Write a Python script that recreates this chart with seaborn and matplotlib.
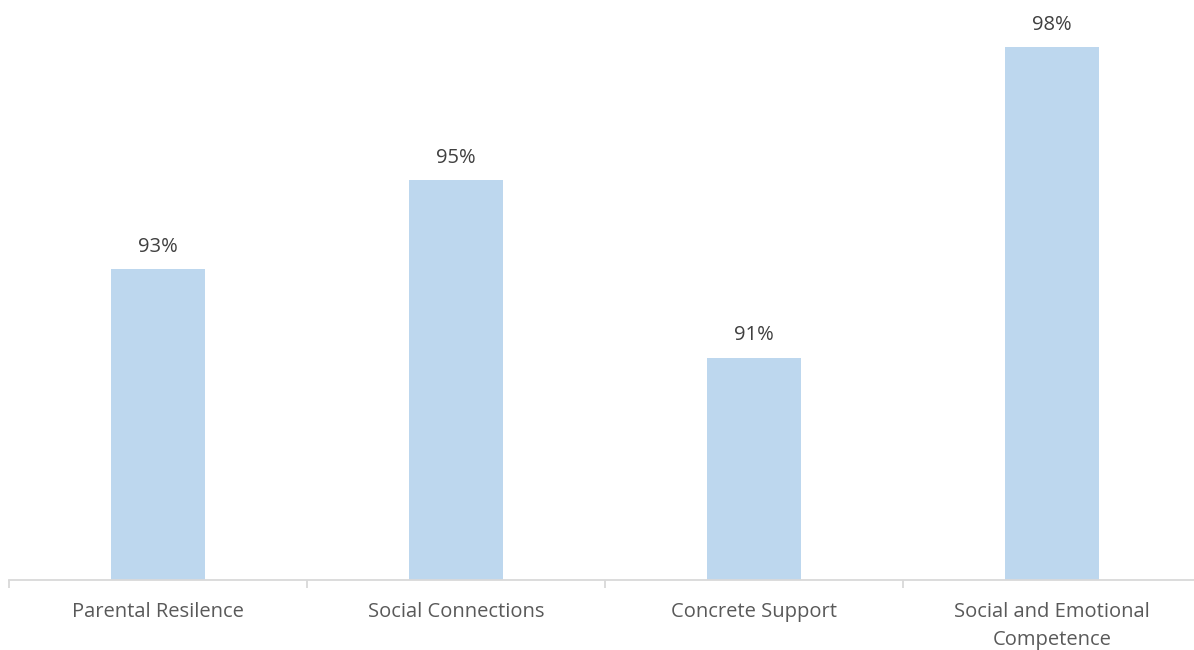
import matplotlib
matplotlib.use("Agg")
import matplotlib.pyplot as plt
import seaborn as sns
import pandas as pd
from matplotlib.ticker import FixedLocator

categories = ["Parental Resilence", "Social Connections", "Concrete Support",
              "Social and Emotional\nCompetence"]
values = [93, 95, 91, 98]
labels = ["93%", "95%", "91%", "98%"]

sns.set_theme(style="white")
plt.rcParams['font.family'] = ['Open Sans', 'DejaVu Sans']
plt.rcParams['font.stretch'] = 'normal'
plt.rcParams['font.weight'] = 'normal'

W, H = 1194, 650
fig = plt.figure(figsize=(W / 100, H / 100), dpi=100)
ax = fig.add_axes([9 / W, (H - 580) / H, 1192 / W, 580 / H])

df = pd.DataFrame({"cat": categories, "val": values})
sns.barplot(data=df, x="cat", y="val", color="#BDD7EE", width=0.316,
            saturation=1, linewidth=0, ax=ax)

ax.set_ylim(86, 86 + 580 / 44.4)
ax.set_xlim(-0.5, 3.5)
for i, (v, t) in enumerate(zip(values, labels)):
    ax.annotate(t, (i, v), xytext=(0, 9), textcoords="offset points",
                ha="center", va="bottom", fontsize=14.5, color="#404040")

for s in ["top", "right", "left"]:
    ax.spines[s].set_visible(False)
ax.spines["bottom"].set_color("#d9d9d9")
ax.spines["bottom"].set_linewidth(1.3)
ax.set_yticks([])
ax.set_xlabel("")
ax.set_ylabel("")
ax.tick_params(axis="x", which="major", length=0, pad=16, labelsize=14.5,
               labelcolor="#595959")
ax.xaxis.set_minor_locator(FixedLocator([-0.5, 0.5, 1.5, 2.5, 3.5]))
ax.tick_params(axis="x", which="minor", length=6, width=1.3, color="#d9d9d9",
               bottom=True)
for lab in ax.get_xticklabels():
    lab.set_linespacing(1.5)

fig.savefig("out.png", dpi=100)
